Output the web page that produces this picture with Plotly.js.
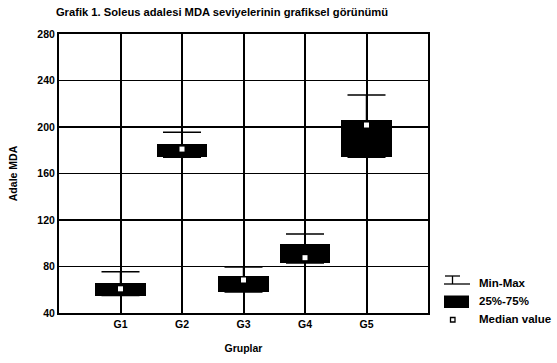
<!DOCTYPE html>
<html>
<head>
<meta charset="utf-8">
<script src="https://cdn.plot.ly/plotly-3.0.1.min.js"></script>
<style>html,body{margin:0;padding:0;background:#fff;}#chart{width:557px;height:363px;}</style>
</head>
<body>
<div id="chart"></div>
<script>
// Data
var groups   = ['G1', 'G2', 'G3', 'G4', 'G5'];
var groupPos = [1, 2, 3, 4, 5];
var minVals  = [55, 174, 58, 83, 174];
var q1Vals   = [55, 174, 58, 83, 174];
var medVals  = [60.8, 181, 68.4, 87.6, 201.7];
var q3Vals   = [65.5, 185, 72, 99, 206];
var maxVals  = [75.5, 195.5, 79.5, 108, 227.5];
var yTicks   = [40, 80, 120, 160, 200, 240, 280];
var legendLabels = ['Min-Max', '25%-75%', 'Median value'];

var FONT = 'Arial, "Liberation Sans", sans-serif';

var boxHeights = q3Vals.map(function (v, i) { return v - q1Vals[i]; });
var upErr = maxVals.map(function (v, i) { return v - q3Vals[i]; });
var downErr = q3Vals.map(function (v, i) { return v - minVals[i]; });

var traces = [
  {
    type: 'bar', x: groupPos, y: boxHeights, base: q1Vals, width: 0.82,
    marker: {color: '#000', line: {width: 0}}, showlegend: false, hoverinfo: 'skip'
  },
  {
    type: 'scatter', mode: 'markers', x: groupPos, y: q3Vals,
    marker: {size: 1, color: 'rgba(0,0,0,0)'},
    error_y: {type: 'data', symmetric: false, array: upErr, arrayminus: downErr,
              color: '#000', thickness: 1.5, width: 19},
    showlegend: false, hoverinfo: 'skip'
  },
  {
    type: 'scatter', mode: 'markers', x: groupPos, y: medVals,
    marker: {symbol: 'square', size: 5, color: '#fff', line: {width: 0}},
    showlegend: false, hoverinfo: 'skip'
  }
];

// plot area: left 59, right 428, top 34, bottom 313
function px(x) { return (x - 59) / 369; }
function py(y) { return (313 - y) / 279; }

var shapes = [
  // Min-Max symbol
  {type: 'line', xref: 'paper', yref: 'paper', x0: px(445), x1: px(460), y0: py(276), y1: py(276), line: {color: '#000', width: 1.3}},
  {type: 'line', xref: 'paper', yref: 'paper', x0: px(452.5), x1: px(452.5), y0: py(276), y1: py(284), line: {color: '#000', width: 1.3}},
  {type: 'line', xref: 'paper', yref: 'paper', x0: px(444), x1: px(470), y0: py(284), y1: py(284), line: {color: '#000', width: 1.3}},
  // 25%-75% symbol
  {type: 'rect', xref: 'paper', yref: 'paper', x0: px(444), x1: px(469), y0: py(308), y1: py(295.5), fillcolor: '#000', line: {width: 0}},
  // median symbol
  {type: 'rect', xref: 'paper', yref: 'paper', x0: px(450.5), x1: px(455), y0: py(322), y1: py(317.5), fillcolor: '#fff', line: {color: '#000', width: 1.3}}
];

var legendY = [283, 301, 319];
var annotations = legendLabels.map(function (t, i) {
  return {xref: 'paper', yref: 'paper', x: px(477), y: py(legendY[i]), xanchor: 'left', yanchor: 'middle',
          text: t, showarrow: false, font: {family: FONT, size: 11.5, color: '#000', weight: 'bold'}};
});

var layout = {
  width: 557, height: 363,
  margin: {l: 59, r: 129, t: 34, b: 50},
  paper_bgcolor: '#fff', plot_bgcolor: '#fff',
  font: {family: FONT, size: 10, color: '#000', weight: 'bold'},
  title: {text: 'Grafik 1. Soleus adalesi MDA seviyelerinin grafiksel görünümü',
          font: {family: FONT, size: 11.2, color: '#000', weight: 'bold'},
          xref: 'container', x: 222 / 557, xanchor: 'center', yref: 'container', y: 1 - 12 / 363, yanchor: 'middle'},
  xaxis: {
    range: [0, 6], tickvals: groupPos, ticktext: groups,
    showgrid: true, gridcolor: '#000', gridwidth: 2,
    showline: true, linecolor: '#000', linewidth: 2, mirror: true,
    zeroline: false, ticks: '', ticklen: 0,
    tickfont: {family: FONT, size: 10.5, color: '#000', weight: 'bold'},
    title: {text: 'Gruplar', font: {family: FONT, size: 10.5, color: '#000', weight: 'bold'}, standoff: 16}
  },
  yaxis: {
    range: [40, 280], tickvals: yTicks,
    showgrid: true, gridcolor: '#000', gridwidth: 1.5,
    showline: true, linecolor: '#000', linewidth: 2, mirror: true,
    zeroline: false, ticks: '', ticklen: 0,
    tickfont: {family: FONT, size: 10.5, color: '#000', weight: 'bold'},
    title: {text: 'Adale MDA', font: {family: FONT, size: 10.5, color: '#000', weight: 'bold'}, standoff: 18}
  },
  shapes: shapes,
  annotations: annotations,
  showlegend: false,
  bargap: 0
};

Plotly.newPlot('chart', traces, layout, {staticPlot: true, displayModeBar: false});
</script>
</body>
</html>
